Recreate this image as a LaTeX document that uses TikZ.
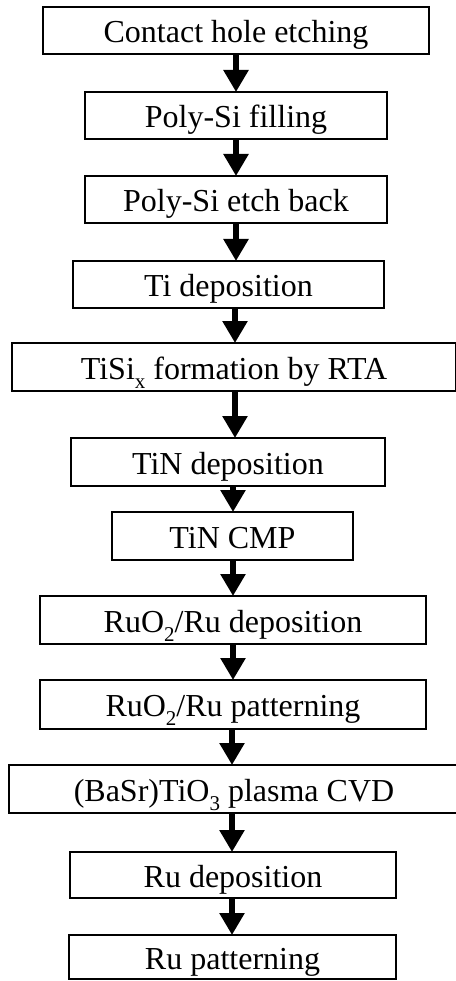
\documentclass[tikz,border=0pt]{standalone}
\usepackage{fontspec}
\setmainfont{Liberation Serif}
\usetikzlibrary{arrows.meta}
\newcommand\lowsub[1]{\raisebox{-9pt}{\fontsize{21}{21}\selectfont #1}}
\begin{document}
\begin{tikzpicture}[x=1pt,y=-1pt,
  stepbox/.style={draw, line width=1.5pt, inner sep=0pt, outer sep=0pt,
    font=\fontsize{32}{36}\selectfont, text height=26pt, text depth=2pt},
  arr/.style={line width=6pt, -{Triangle[width=24pt,length=22pt]}}]
\useasboundingbox (0,0) rectangle (455,981);
\def\bx#1#2#3#4#5#6{\node[stepbox, minimum width={#3-#2}, minimum height={#5-#4}] (#1) at ({(#2+#3)/2},{(#4+#5)/2}) {#6};}
\bx{b1}{43}{429}{7}{54}{Contact hole etching}
\bx{b2}{85}{387}{92}{139}{Poly-Si filling}
\bx{b3}{85}{387}{176}{223}{Poly-Si etch back}
\bx{b4}{73}{384}{261}{308}{Ti deposition}
\bx{b5}{12}{456}{343}{391}{TiSi\lowsub{x} formation by RTA}
\bx{b6}{71}{385}{438}{486}{TiN deposition}
\bx{b7}{112}{353}{512}{560}{TiN CMP}
\bx{b8}{40}{426}{596}{644}{RuO\lowsub{2}/Ru deposition}
\bx{b9}{40}{426}{680}{729}{RuO\lowsub{2}/Ru patterning}
\bx{b10}{9}{459}{765}{813}{(BaSr)TiO\lowsub{3} plasma CVD}
\bx{b11}{70}{396}{852}{898}{Ru deposition}
\bx{b12}{69}{396}{935}{979}{Ru patterning}
\draw[arr] (b1.south) -- (b2.north);
\draw[arr] (b2.south) -- (b3.north);
\draw[arr] (b3.south) -- (b4.north -| b3.south);
\draw[arr] ([xshift=6.5pt]b4.south) -- ([xshift=1pt]b5.north);
\draw[arr] ([xshift=1pt]b5.south) -- ([xshift=7pt]b6.north);
\draw[arr] ([xshift=5pt]b6.south) -- ([xshift=0.5pt]b7.north);
\draw[arr] ([xshift=0.5pt]b7.south) -- (b8.north);
\draw[arr] (b8.south) -- (b9.north);
\draw[arr] ([xshift=-1pt]b9.south) -- ([xshift=-2pt]b10.north);
\draw[arr] ([xshift=-2pt]b10.south) -- ([xshift=-1pt]b11.north);
\draw[arr] ([xshift=-1pt]b11.south) -- ([xshift=-0.5pt]b12.north);
\end{tikzpicture}
\end{document}
